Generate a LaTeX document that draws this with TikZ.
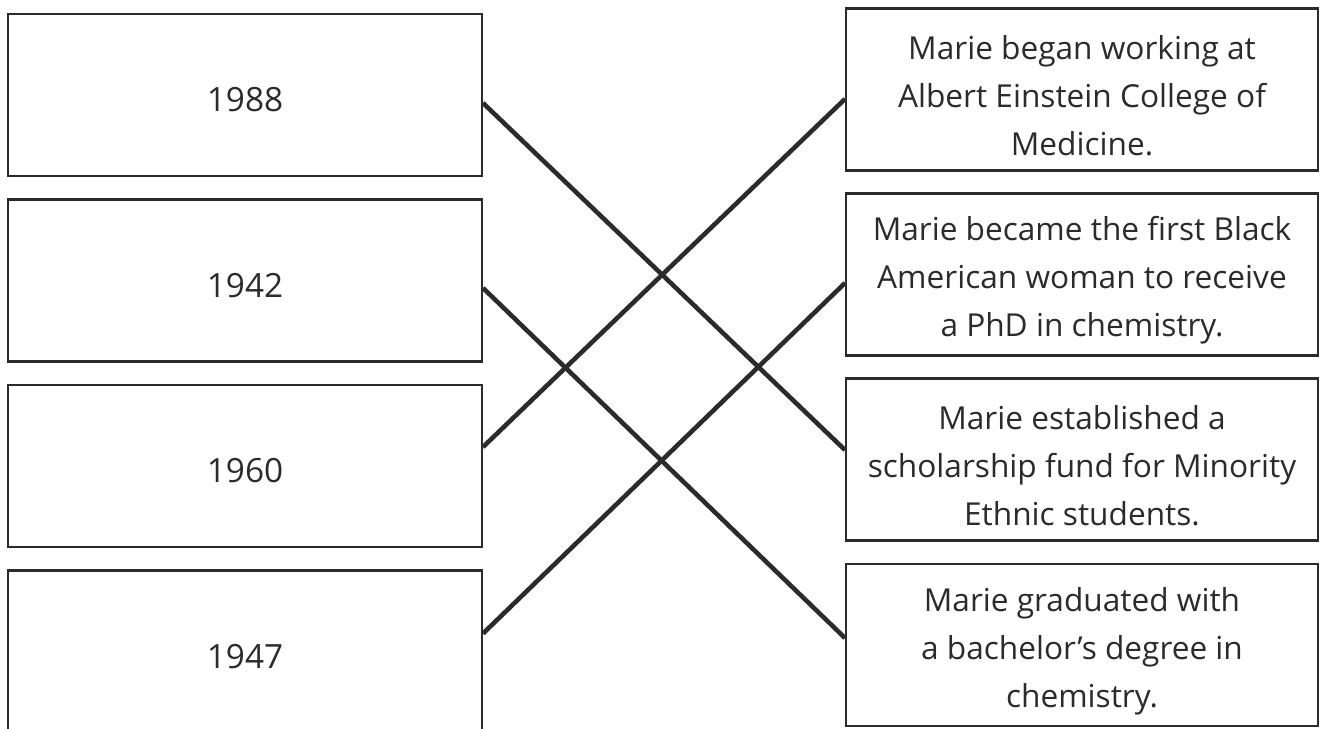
\documentclass[tikz,border=0pt]{standalone}
\usepackage{fontspec}
\setmainfont{Open Sans}
\usetikzlibrary{calc}
\definecolor{ink}{HTML}{2B2B2B}
\newcommand{\topgap}{\rule{0pt}{20.5pt}}

\begin{document}
\begin{tikzpicture}
    [%%%%%%%%%%%%%%%%%%%%%%%%%%%%%%
        x=0.02cm, y=-0.02cm,
        yearbox/.style={rectangle,draw=ink,line width=1.2pt,minimum width=9.48cm,minimum height=3.24cm,
            text=ink,font=\fontsize{19}{27}\selectfont,execute at begin node=\rule{0pt}{19.3pt}},
        eventbox/.style={rectangle,draw=ink,line width=1.2pt,minimum width=9.44cm,minimum height=3.24cm,
            text=ink,align=center,font=\fontsize{18}{27.2}\selectfont},
        link/.style={draw=ink,line width=2.6pt},
    ]%%%%%%%%%%%%%%%%%%%%%%%%%%%%%%

\useasboundingbox (0,0) rectangle (1322,729);
\clip (0,0) rectangle (1322,729);

% years
\foreach \name/\y/\txt in {l1/95/1988, l2/280.5/1942, l3/466/1960, l4/651.5/1947}
    \node[yearbox] (\name) at (245,\y) {\txt};

% events
\node[eventbox] (r1) at (1082,89.5) {\topgap Marie began working at\\Albert Einstein College of\\Medicine.};
\node[eventbox] (r2) at (1082,274.5) {\topgap Marie became the first Black\\American woman to receive\\a PhD in chemistry.};
\node[eventbox] (r3) at (1082,459.5) {\topgap Marie established a\\scholarship fund for Minority\\Ethnic students.};
\node[eventbox] (r4) at (1082,645) {\topgap Marie graduated with\\a bachelor’s degree in\\chemistry.};

% answers
\draw[link] ($(l1.east)+(0,8)$) -- ($(r3.west)+(0,-9.5)$);
\draw[link] ($(l2.east)+(0,7.5)$) -- ($(r4.west)+(0,-7)$);
\draw[link] ($(l3.east)+(0,-19)$) -- ($(r1.west)+(0,9.5)$);
\draw[link] ($(l4.east)+(0,-18)$) -- ($(r2.west)+(0,8.5)$);
\end{tikzpicture}
\end{document}
